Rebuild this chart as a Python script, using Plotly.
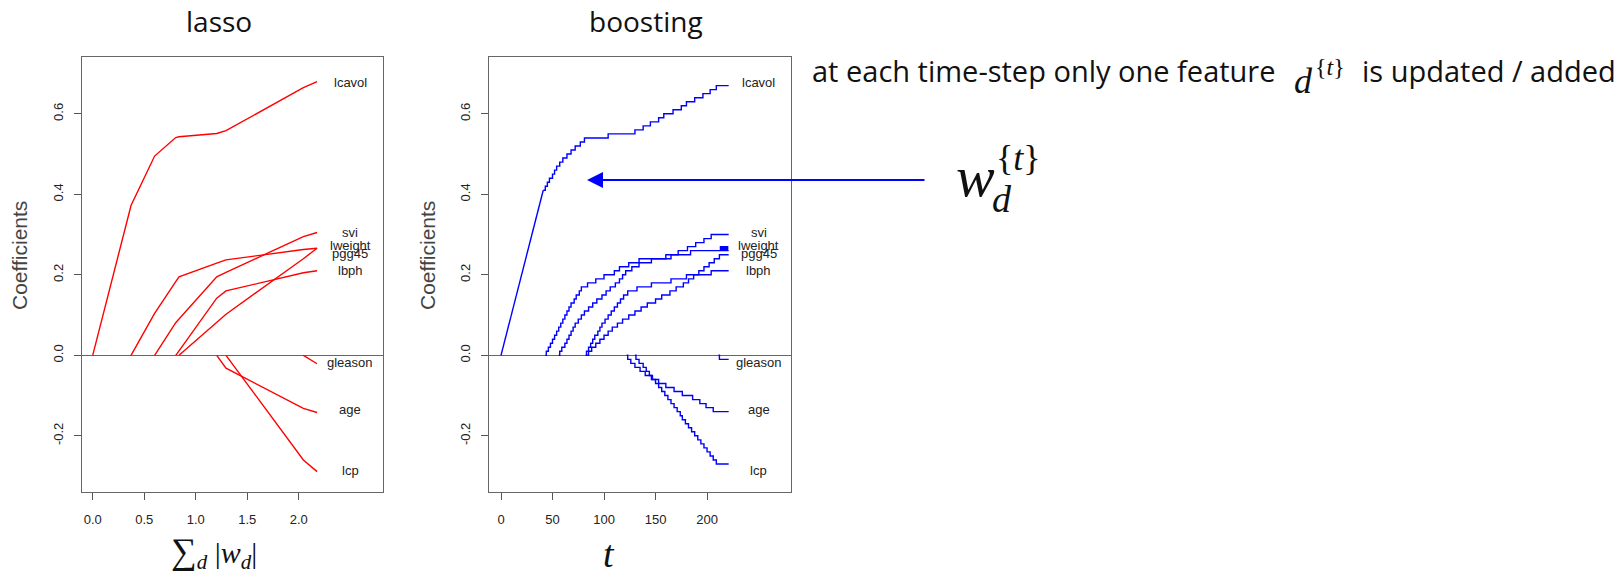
import plotly.graph_objects as go

W, H = 1624, 579

# ---------------- data: lasso paths (sum |w_d| vs coefficient) ----------------
lasso_lcavol_x = [0.0, 0.372, 0.601, 0.806, 0.838, 1.204, 1.294, 2.045, 2.178]
lasso_lcavol_w = [0.0, 0.372, 0.495, 0.541, 0.543, 0.551, 0.558, 0.665, 0.680]
lasso_lweight_x = [0.372, 0.601, 0.806, 0.838, 1.204, 1.294, 2.045, 2.178]
lasso_lweight_w = [0.0, 0.104, 0.183, 0.195, 0.229, 0.237, 0.263, 0.266]
lasso_svi_x = [0.601, 0.806, 0.838, 1.204, 1.294, 2.045, 2.178]
lasso_svi_w = [0.0, 0.081, 0.090, 0.195, 0.206, 0.295, 0.305]
lasso_lbph_x = [0.806, 0.838, 1.204, 1.294, 2.045, 2.178]
lasso_lbph_w = [0.0, 0.011, 0.142, 0.160, 0.205, 0.210]
lasso_pgg45_x = [0.838, 1.204, 1.294, 2.045, 2.178]
lasso_pgg45_w = [0.0, 0.082, 0.102, 0.240, 0.266]
lasso_age_x = [1.204, 1.294, 2.045, 2.178]
lasso_age_w = [0.0, -0.032, -0.132, -0.142]
lasso_lcp_x = [1.294, 2.045, 2.178]
lasso_lcp_w = [0.0, -0.260, -0.289]
lasso_gleason_x = [2.045, 2.178]
lasso_gleason_w = [0.0, -0.021]

# ---------------- data: boosting / forward stagewise paths ----------------
boost_lcavol_ramp_t = [0, 41]
boost_lcavol_ramp_w = [0.0, 0.41]
boost_lcavol_t = [41, 43, 45, 47, 50, 52, 54, 57, 60, 64, 68, 72, 77, 81,
                  104, 130, 138, 145, 153, 158, 167, 175, 180, 188, 196, 203, 209, 221]
boost_lcavol_w = [0.41, 0.42, 0.43, 0.44, 0.45, 0.46, 0.47, 0.48, 0.49, 0.50, 0.51, 0.52, 0.53, 0.54,
                  0.55, 0.56, 0.57, 0.58, 0.59, 0.60, 0.61, 0.62, 0.63, 0.64, 0.65, 0.66, 0.67, 0.67]
boost_lweight_t = [43, 44, 46, 48, 50, 52, 54, 56, 58, 60, 62, 64, 66, 68, 71, 73, 76, 78,
                   84, 92, 100, 110, 115, 124, 134, 165, 184,
                   213, 214, 215, 216, 217, 218, 219, 220, 221]
boost_lweight_w = [0.0, 0.01, 0.02, 0.03, 0.04, 0.05, 0.06, 0.07, 0.08, 0.09, 0.10, 0.11, 0.12, 0.13, 0.14, 0.15, 0.16, 0.17,
                   0.18, 0.19, 0.20, 0.21, 0.22, 0.23, 0.24, 0.25, 0.26,
                   0.27, 0.26, 0.27, 0.26, 0.27, 0.26, 0.27, 0.26, 0.26]
boost_svi_t = [56, 57, 59, 62, 64, 66, 68, 70, 72, 75, 78, 81, 85, 89, 93, 98, 102, 106, 111, 115,
               118, 121, 127, 134, 146, 160, 172, 181, 189, 197, 204, 221]
boost_svi_w = [0.0, 0.01, 0.02, 0.03, 0.04, 0.05, 0.06, 0.07, 0.08, 0.09, 0.10, 0.11, 0.12, 0.13, 0.14, 0.15,
               0.16, 0.17, 0.18, 0.19, 0.20, 0.21, 0.22, 0.23, 0.24, 0.25, 0.26, 0.27, 0.28, 0.29, 0.30, 0.30]
boost_lbph_t = [82, 83, 85, 87, 89, 91, 94, 96, 98, 101, 104, 107, 110, 113, 116, 119, 123, 132, 146, 165, 180, 204, 221]
boost_lbph_w = [0.0, 0.01, 0.02, 0.03, 0.04, 0.05, 0.06, 0.07, 0.08, 0.09, 0.10, 0.11, 0.12, 0.13, 0.14, 0.15,
                0.16, 0.17, 0.18, 0.19, 0.20, 0.21, 0.21]
boost_pgg45_t = [83, 85, 88, 92, 96, 100, 104, 108, 113, 118, 124, 130, 136, 142, 150, 156, 164, 170,
                 177, 182, 187, 192, 197, 202, 207, 212, 221]
boost_pgg45_w = [0.0, 0.01, 0.02, 0.03, 0.04, 0.05, 0.06, 0.07, 0.08, 0.09, 0.10, 0.11, 0.12, 0.13, 0.14, 0.15,
                 0.16, 0.17, 0.18, 0.19, 0.20, 0.21, 0.22, 0.23, 0.24, 0.25, 0.25]
boost_age_t = [122, 123, 126, 130, 135, 140, 146, 153, 160, 168, 176, 186, 193, 199, 206, 221]
boost_age_w = [0.0, -0.01, -0.02, -0.03, -0.04, -0.05, -0.06, -0.07, -0.08, -0.09, -0.10, -0.11, -0.12,
               -0.13, -0.14, -0.14]
boost_lcp_t = [130, 131, 134, 138, 141, 144, 147, 150, 153, 156, 159, 162, 165, 168, 171, 174, 176, 179,
               182, 185, 188, 191, 194, 197, 200, 203, 206, 209, 221]
boost_lcp_w = [0.0, -0.01, -0.02, -0.03, -0.04, -0.05, -0.06, -0.07, -0.08, -0.09, -0.10, -0.11, -0.12,
               -0.13, -0.14, -0.15, -0.16, -0.17, -0.18, -0.19, -0.20, -0.21, -0.22, -0.23, -0.24,
               -0.25, -0.26, -0.27, -0.27]
boost_gleason_t = [211, 212, 221]
boost_gleason_w = [0.0, -0.01, -0.01]

# ---------------- labels ----------------
feature_names = ["lcavol", "svi", "lweight", "pgg45", "lbph", "gleason", "age", "lcp"]
feature_label_y = [0.679, 0.306, 0.273, 0.253, 0.211, -0.019, -0.134, -0.287]
lasso_label_x = 2.5
boost_label_x = 250

lasso_xticks = [0.0, 0.5, 1.0, 1.5, 2.0]
lasso_xticktext = ["0.0", "0.5", "1.0", "1.5", "2.0"]
boost_xticks = [0, 50, 100, 150, 200]
boost_xticktext = ["0", "50", "100", "150", "200"]
yticks = [-0.2, 0.0, 0.2, 0.4, 0.6]
yticktext = ["-0.2", "0.0", "0.2", "0.4", "0.6"]

# ---------------- figure ----------------
fig = go.Figure()

RED = "#ff0000"
BLUE = "#0000ff"

lasso_series = [
    (lasso_lcavol_x, lasso_lcavol_w), (lasso_lweight_x, lasso_lweight_w),
    (lasso_svi_x, lasso_svi_w), (lasso_lbph_x, lasso_lbph_w),
    (lasso_pgg45_x, lasso_pgg45_w), (lasso_age_x, lasso_age_w),
    (lasso_lcp_x, lasso_lcp_w), (lasso_gleason_x, lasso_gleason_w),
]
for xs, ws in lasso_series:
    fig.add_trace(go.Scatter(x=xs, y=ws, mode="lines", line=dict(color=RED, width=1.4),
                             xaxis="x", yaxis="y", showlegend=False, hoverinfo="skip"))

fig.add_trace(go.Scatter(x=boost_lcavol_ramp_t, y=boost_lcavol_ramp_w, mode="lines",
                         line=dict(color=BLUE, width=1.4), xaxis="x2", yaxis="y2",
                         showlegend=False, hoverinfo="skip"))
boost_series = [
    (boost_lcavol_t, boost_lcavol_w), (boost_lweight_t, boost_lweight_w),
    (boost_svi_t, boost_svi_w), (boost_lbph_t, boost_lbph_w),
    (boost_pgg45_t, boost_pgg45_w), (boost_age_t, boost_age_w),
    (boost_lcp_t, boost_lcp_w), (boost_gleason_t, boost_gleason_w),
]
for ts, ws in boost_series:
    fig.add_trace(go.Scatter(x=ts, y=ws, mode="lines", line=dict(color=BLUE, width=1.4, shape="hv"),
                             xaxis="x2", yaxis="y2", showlegend=False, hoverinfo="skip"))


def px(x):
    return x / W


def py(y):
    return 1 - y / H


R_FONT = "Liberation Sans"
SLIDE_FONT = "Open Sans"
MATH_FONT = "Liberation Serif"

axis_common = dict(showline=True, mirror=True, linecolor="#666", linewidth=1,
                   ticks="outside", ticklen=7, tickcolor="#555", tickwidth=1,
                   showgrid=False, tickfont=dict(family=R_FONT, size=13, color="#222"))

x_lo, x_hi = 82, 383
x2_lo, x2_hi = 489.3, 790.7
y_top, y_bot = 57, 492

fig.update_layout(
    width=W, height=H, margin=dict(l=0, r=0, t=0, b=0),
    paper_bgcolor="white", plot_bgcolor="white", showlegend=False,
    xaxis=dict(domain=[px(x_lo), px(x_hi)], range=[-0.1039, 2.818], anchor="y",
               tickvals=lasso_xticks, ticktext=lasso_xticktext, zeroline=False,
               ticklabelstandoff=8, **axis_common),
    yaxis=dict(domain=[py(y_bot), py(y_top)], range=[-0.3396, 0.7411], anchor="x",
               tickvals=yticks, ticktext=yticktext, tickangle=-90,
               zeroline=True, zerolinecolor="#666", zerolinewidth=1,
               ticklabelstandoff=6, **axis_common),
    xaxis2=dict(domain=[px(x2_lo), px(x2_hi)], range=[-11.36, 281.2], anchor="y2",
                tickvals=boost_xticks, ticktext=boost_xticktext, zeroline=False,
                ticklabelstandoff=8, **axis_common),
    yaxis2=dict(domain=[py(y_bot), py(y_top)], range=[-0.3396, 0.7411], anchor="x2",
                tickvals=yticks, ticktext=yticktext, tickangle=-90,
                zeroline=True, zerolinecolor="#666", zerolinewidth=1,
                ticklabelstandoff=6, **axis_common),
)

ann = []
# line labels
for name, ly in zip(feature_names, feature_label_y):
    ann.append(dict(x=lasso_label_x, y=ly, xref="x", yref="y", text=name, showarrow=False,
                    xanchor="center", yanchor="middle",
                    font=dict(family=R_FONT, size=13, color="#222")))
    ann.append(dict(x=boost_label_x, y=ly, xref="x2", yref="y2", text=name, showarrow=False,
                    xanchor="center", yanchor="middle",
                    font=dict(family=R_FONT, size=13, color="#222")))


def text_at(x, y, text, size, family, color="#111", xanchor="center", angle=0):
    ann.append(dict(x=px(x), y=py(y), xref="paper", yref="paper", text=text, showarrow=False,
                    xanchor=xanchor, yanchor="middle", textangle=angle,
                    font=dict(family=family, size=size, color=color)))


# y-axis titles
text_at(19, 256, "Coefficients", 21, R_FONT, color="#444", angle=-90)
text_at(427, 256, "Coefficients", 21, R_FONT, color="#444", angle=-90)

# panel titles
text_at(218.7, 21, "lasso", 28, SLIDE_FONT, color="#111")
text_at(646, 21, "boosting", 28, SLIDE_FONT, color="#111")

# x-axis math labels
text_at(214, 552, "<span style='font-size:36px'>∑</span><sub><i>d</i></sub> |<i>w</i><sub><i>d</i></sub>|",
        30, MATH_FONT)
text_at(609, 554, "<i>t</i>", 38, MATH_FONT)

# slide text
text_at(810, 70, "at each time-step only one feature", 29, SLIDE_FONT, xanchor="left")
text_at(1303, 81, "<i>d</i>", 36, MATH_FONT)
text_at(1330, 67, "{<i>t</i>}", 24, MATH_FONT)
text_at(1618, 70, "is updated / added", 29, SLIDE_FONT, xanchor="right")

# w_d^{t}
text_at(975, 176, "<i>w</i>", 58, MATH_FONT)
text_at(1018, 158, "{<i>t</i>}", 36, MATH_FONT)
text_at(1002, 199, "<i>d</i>", 38, MATH_FONT)

# arrow
ann.append(dict(x=px(587), y=py(180), xref="paper", yref="paper", text="",
                showarrow=True, ax=926 - 587, ay=0, axref="pixel", ayref="pixel",
                arrowhead=2, arrowsize=1.6, arrowwidth=2, arrowcolor=BLUE, standoff=0))

fig.update_layout(annotations=ann)

fig.write_html("out.html")
